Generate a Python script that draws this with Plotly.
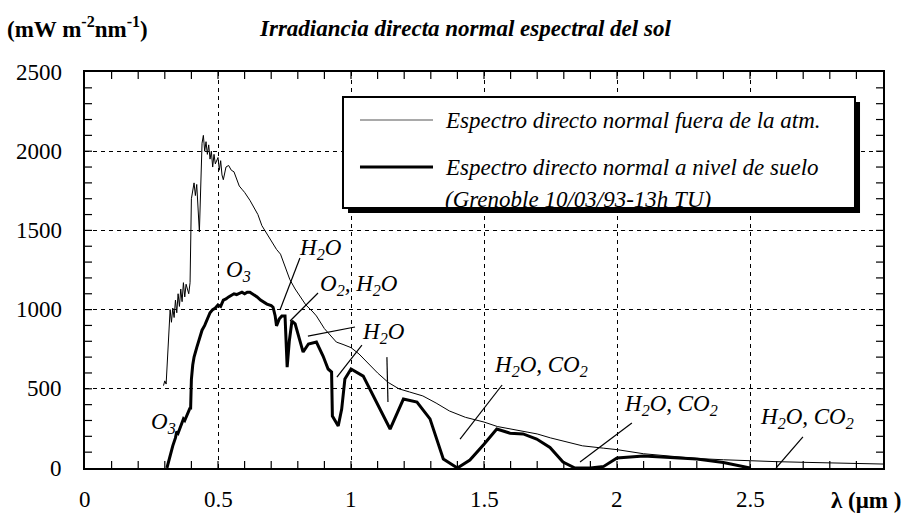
import plotly.graph_objects as go

# ---------------- data ----------------
# Extraterrestrial direct normal spectrum (thin line)
ext_wl = [0.295, 0.30, 0.305, 0.31, 0.315, 0.32, 0.325, 0.33, 0.335, 0.34, 0.345, 0.35, 0.355, 0.36,
          0.365, 0.37, 0.375, 0.38, 0.39, 0.395, 0.40, 0.405, 0.41, 0.415, 0.42, 0.43, 0.435, 0.44,
          0.445, 0.45, 0.455, 0.46, 0.465, 0.47, 0.475, 0.48, 0.485, 0.49, 0.50, 0.505, 0.51, 0.515,
          0.52, 0.53, 0.54, 0.55, 0.56, 0.57, 0.58, 0.59, 0.60, 0.62, 0.635, 0.65, 0.665, 0.68, 0.70,
          0.72, 0.735, 0.75, 0.77, 0.79, 0.81, 0.83, 0.857, 0.87, 0.90, 0.92, 0.945, 0.97, 1.0, 1.03,
          1.06, 1.10, 1.14, 1.18, 1.22, 1.27, 1.32, 1.37, 1.43, 1.50, 1.55, 1.60, 1.65, 1.70, 1.75,
          1.80, 1.87, 1.95, 2.0, 2.1, 2.2, 2.3, 2.4, 2.5, 2.6, 2.7, 2.8, 2.9, 3.0]
ext_irr = [520, 550, 530, 700, 820, 1000, 920, 1010, 950, 1060, 980, 1100, 1020, 1130,
           1050, 1170, 1080, 1160, 1100, 1170, 1700, 1760, 1800, 1720, 1790, 1490, 1800, 2050,
           2100, 2000, 2060, 1980, 2040, 1950, 2000, 1900, 1980, 1920, 1960, 1880, 1940, 1850,
           1820, 1900, 1910, 1880, 1870, 1820, 1780, 1760, 1740, 1690, 1640, 1600, 1530, 1490, 1440,
           1380, 1350, 1280, 1190, 1130, 1080, 1030, 985, 960, 880, 840, 795, 780, 760, 720,
           670, 600, 540, 500, 480, 455, 410, 360, 320, 290, 262, 245, 230, 215, 190,
           170, 140, 125, 116, 90, 75, 60, 52, 45, 40, 36, 32, 28, 25]

# Ground-level direct normal spectrum, Grenoble (thick line)
gnd_wl = [0.308, 0.32, 0.33, 0.34, 0.345, 0.35, 0.357, 0.365, 0.37, 0.375, 0.383, 0.39, 0.395, 0.397,
          0.40, 0.405, 0.41, 0.42, 0.43, 0.44, 0.45, 0.46, 0.47, 0.48, 0.49, 0.50, 0.51, 0.52, 0.53,
          0.54, 0.55, 0.56, 0.57, 0.58, 0.59, 0.60, 0.61, 0.62, 0.635, 0.647, 0.66, 0.684, 0.70, 0.707,
          0.715, 0.72, 0.73, 0.74, 0.752, 0.76, 0.768, 0.778, 0.79, 0.80, 0.82, 0.84, 0.87, 0.895,
          0.914, 0.927, 0.93, 0.952, 0.965, 0.977, 1.0, 1.046, 1.147, 1.197, 1.248, 1.297, 1.347, 1.40,
          1.447, 1.50, 1.548, 1.598, 1.647, 1.698, 1.748, 1.797, 1.842, 1.90, 1.95, 2.0, 2.1, 2.2, 2.3,
          2.4, 2.5]
gnd_irr = [0, 80, 140, 190, 230, 220, 250, 280, 310, 300, 330, 360, 380, 370,
           560, 650, 700, 760, 820, 870, 900, 940, 980, 1000, 1010, 1030, 1020, 1060, 1067,
           1080, 1090, 1100, 1095, 1105, 1110, 1100, 1110, 1110, 1095, 1080, 1060, 1035, 1025, 1015,
           960, 897, 940, 960, 960, 637, 800, 928, 910, 850, 732, 783, 795, 707,
           625, 606, 328, 265, 372, 562, 625, 580, 246, 435, 416, 310, 57, 0,
           50, 150, 246, 220, 215, 183, 130, 38, 0, 0, 10, 63, 76, 66, 57,
           35, 0]

# Absorption labels: text, top-left anchor (wavelength, irradiance)
label_text = ["O<sub>3</sub>", "O<sub>3</sub>", "H<sub>2</sub>O", "O<sub>2</sub>, H<sub>2</sub>O",
              "H<sub>2</sub>O", "H<sub>2</sub>O, CO<sub>2</sub>", "H<sub>2</sub>O, CO<sub>2</sub>",
              "H<sub>2</sub>O, CO<sub>2</sub>"]
label_x = [0.241, 0.523, 0.797, 0.876, 1.034, 1.530, 2.019, 2.530]
label_y = [385, 1345, 1484, 1255, 955, 745, 498, 415]

# Leader lines: (x0, y0, x1, y1) in data units
leader_x0 = [0.808, 0.876, 1.015, 1.041, 1.135, 1.568, 2.056, 2.699]
leader_y0 = [1326, 1105, 890, 776, 700, 524, 284, 196]
leader_x1 = [0.733, 0.771, 0.838, 0.947, 1.139, 1.410, 1.861, 2.598]
leader_y1 = [997, 928, 833, 574, 417, 183, 38, 0]

x_range = [0, 3]
y_range = [0, 2500]
x_ticks = [0, 0.5, 1, 1.5, 2, 2.5]
x_ticktext = ["0", "0.5", "1", "1.5", "2", "2.5"]
y_ticks = [0, 500, 1000, 1500, 2000, 2500]
y_ticktext = ["0", "500", "1000", "1500", "2000", "2500"]
x_minor_step = 0.1
y_minor_step = 100

legend_names = ["Espectro directo normal fuera de la atm.",
                "Espectro directo normal a nivel de suelo",
                "(Grenoble 10/03/93-13h TU)"]

FONT = "Times New Roman, Liberation Serif, serif"

# plot-area size in px (figure size minus margins) to express tick length in data units
W, H = 911, 515
ML, MR, MT, MB = 85, 28, 72, 47
PW, PH = W - ML - MR, H - MT - MB
TICK_PX = 7
tick_dx = TICK_PX * (x_range[1] - x_range[0]) / PW
tick_dy = TICK_PX * (y_range[1] - y_range[0]) / PH

fig = go.Figure()
fig.add_trace(go.Scatter(x=ext_wl, y=ext_irr, mode="lines",
                         line=dict(color="black", width=1), name=legend_names[0],
                         showlegend=False, hoverinfo="skip"))
fig.add_trace(go.Scatter(x=gnd_wl, y=gnd_irr, mode="lines",
                         line=dict(color="black", width=3), name=legend_names[1],
                         showlegend=False, hoverinfo="skip"))

# inward tick marks on all four sides, every minor step
n_x = int(round((x_range[1] - x_range[0]) / x_minor_step))
n_y = int(round((y_range[1] - y_range[0]) / y_minor_step))
tx, ty = [], []
for i in range(1, n_x):
    v = x_range[0] + i * x_minor_step
    tx += [v, v, None, v, v, None]
    ty += [y_range[0], y_range[0] + tick_dy, None, y_range[1], y_range[1] - tick_dy, None]
for j in range(1, n_y):
    v = y_range[0] + j * y_minor_step
    tx += [x_range[0], x_range[0] + tick_dx, None, x_range[1], x_range[1] - tick_dx, None]
    ty += [v, v, None, v, v, None]
fig.add_trace(go.Scatter(x=tx, y=ty, mode="lines", line=dict(color="black", width=1.2),
                         showlegend=False, hoverinfo="skip", connectgaps=False))

shapes = []
for a, b, c, d in zip(leader_x0, leader_y0, leader_x1, leader_y1):
    shapes.append(dict(type="line", xref="x", yref="y", x0=a, y0=b, x1=c, y1=d,
                       line=dict(color="black", width=1.2)))

# Legend box (paper coords) with shadow
shapes.append(dict(type="rect", xref="paper", yref="paper", x0=0.3296, x1=0.9712,
                   y0=0.6440, y1=0.9242, fillcolor="black", line=dict(width=0), layer="above"))
shapes.append(dict(type="rect", xref="paper", yref="paper", x0=0.3233, x1=0.9649,
                   y0=0.6566, y1=0.9369, fillcolor="white",
                   line=dict(color="black", width=2), layer="above"))
shapes.append(dict(type="line", xref="paper", yref="paper", x0=0.3446, x1=0.4361,
                   y0=0.8788, y1=0.8788, line=dict(color="#555", width=1.2), layer="above"))
shapes.append(dict(type="line", xref="paper", yref="paper", x0=0.3446, x1=0.4361,
                   y0=0.7601, y1=0.7601, line=dict(color="black", width=3), layer="above"))

annotations = []
for t, x, y in zip(label_text, label_x, label_y):
    annotations.append(dict(text="<i>" + t + "</i>", x=x, y=y, xref="x", yref="y",
                            xanchor="left", yanchor="top", showarrow=False,
                            font=dict(family=FONT, size=23, color="black")))

leg_y = [0.8763, 0.7576, 0.677]
for t, y in zip(legend_names, leg_y):
    annotations.append(dict(text="<i>" + t + "</i>", x=0.4486, y=y, xref="paper", yref="paper",
                            xanchor="left", yanchor="middle", showarrow=False,
                            font=dict(family=FONT, size=23, color="black")))

# tick labels placed through the axis scales
for v, t in zip(x_ticks, x_ticktext):
    annotations.append(dict(text=t, x=v, y=-0.0808, xref="x", yref="paper",
                            xanchor="center", yanchor="middle", showarrow=False,
                            font=dict(family=FONT, size=23, color="black")))
for v, t in zip(y_ticks, y_ticktext):
    annotations.append(dict(text=t, x=-0.0263, y=v, xref="paper", yref="y",
                            xanchor="right", yanchor="middle", showarrow=False,
                            font=dict(family=FONT, size=23, color="black")))

annotations.append(dict(text="<b><i>Irradiancia directa normal espectral del sol</i></b>",
                        x=0.2155, y=1.111, xref="paper", yref="paper", xanchor="left",
                        yanchor="middle", showarrow=False,
                        font=dict(family=FONT, size=23, color="black")))
annotations.append(dict(text="<b>(mW m<sup>-2</sup>nm<sup>-1</sup>)</b>",
                        x=-0.1003, y=1.112, xref="paper", yref="paper", xanchor="left",
                        yanchor="middle", showarrow=False,
                        font=dict(family=FONT, size=23, color="black")))
annotations.append(dict(text="<b>λ (μm )</b>", x=1.025, y=-0.081, xref="paper", yref="paper",
                        xanchor="right", yanchor="middle", showarrow=False,
                        font=dict(family=FONT, size=23, color="black")))

axis_common = dict(showline=True, linecolor="black", linewidth=1.5, mirror=True,
                   ticks="", showticklabels=False,
                   showgrid=True, gridcolor="black", gridwidth=1, griddash="4px,4px",
                   zeroline=False, automargin=False)

fig.update_layout(
    xaxis=dict(range=x_range, tickvals=x_ticks, **axis_common),
    yaxis=dict(range=y_range, tickvals=y_ticks, **axis_common),
    width=W, height=H, margin=dict(l=ML, r=MR, t=MT, b=MB),
    paper_bgcolor="white", plot_bgcolor="white", showlegend=False,
    shapes=shapes, annotations=annotations)

fig.write_html("out.html")
